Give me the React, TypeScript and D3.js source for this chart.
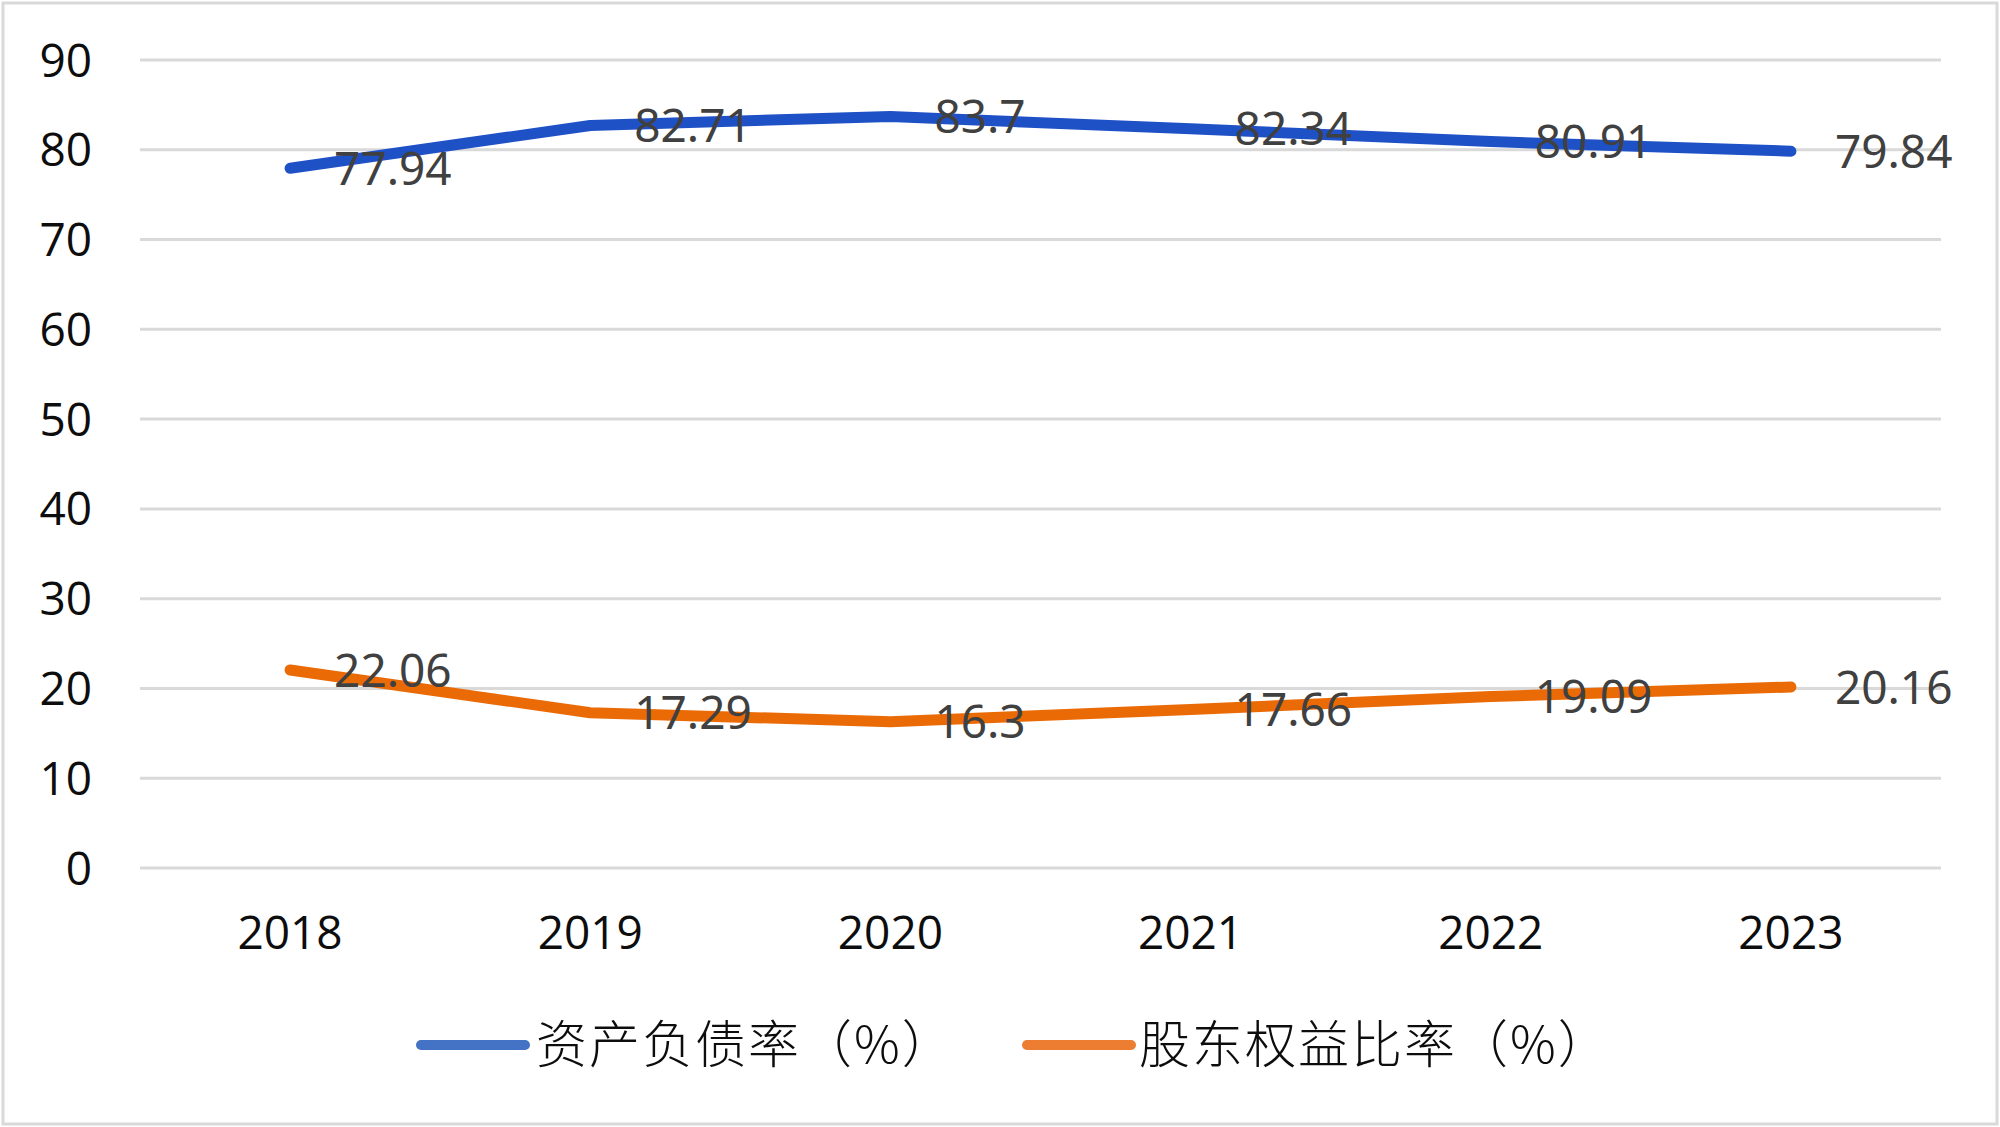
import React from 'react';
import * as d3 from 'd3';

const years = ['2018', '2019', '2020', '2021', '2022', '2023'];
const debtRatio = [77.94, 82.71, 83.7, 82.34, 80.91, 79.84];
const equityRatio = [22.06, 17.29, 16.3, 17.66, 19.09, 20.16];
const yTicks = [0, 10, 20, 30, 40, 50, 60, 70, 80, 90];
const seriesNames = ['资产负债率（%）', '股东权益比率（%）'];

const W = 2000;
const H = 1127;

const series = [
  { name: seriesNames[0], values: debtRatio, line: '#1f51c6', legend: '#4472c4' },
  { name: seriesNames[1], values: equityRatio, line: '#ea6a06', legend: '#ed7d31' }
];

const App: React.FC = () => {
  const plot = { left: 140, right: 1941, top: 60, bottom: 868 };

  const x = d3.scaleBand<string>().domain(years).range([plot.left, plot.right]);
  const y = d3.scaleLinear().domain([0, 90]).range([plot.bottom, plot.top]);
  const cx = (d: string) => (x(d) ?? 0) + x.bandwidth() / 2;

  const line = d3.line<number>()
    .x((_, i) => cx(years[i]))
    .y(v => y(v));

  const legendItems = [
    { x0: 421, x1: 525, tx: 536 },
    { x0: 1027, x1: 1131, tx: 1139 }
  ];

  return (
    <svg
      width={W}
      height={H}
      style={{ position: 'absolute', left: 0, top: 0, display: 'block', background: '#fff' }}
    >
      <rect x={3} y={3} width={W - 6} height={H - 6} fill="#fff" stroke="#d9d9d9" strokeWidth={3} />

      {/* grid */}
      {yTicks.map(t => (
        <line key={t} x1={plot.left} x2={plot.right} y1={y(t)} y2={y(t)} stroke="#d9d9d9" strokeWidth={3} />
      ))}

      {/* y labels */}
      {yTicks.map(t => (
        <text
          key={'yl' + t}
          x={92}
          y={y(t)}
          dy="0.36em"
          textAnchor="end"
          fontFamily="'Open Sans', 'Liberation Sans', sans-serif"
          fontSize={46}
          fill="#0d0d0d"
        >
          {t}
        </text>
      ))}

      {/* x labels */}
      {years.map(yr => (
        <text
          key={yr}
          x={cx(yr)}
          y={949}
          textAnchor="middle"
          fontFamily="'Open Sans', 'Liberation Sans', sans-serif"
          fontSize={46}
          fill="#0d0d0d"
        >
          {yr}
        </text>
      ))}

      {/* lines */}
      {series.map(s => (
        <path
          key={s.name}
          d={line(s.values) ?? ''}
          fill="none"
          stroke={s.line}
          strokeWidth={11}
          strokeLinecap="round"
          strokeLinejoin="round"
        />
      ))}

      {/* data labels */}
      {series.map(s =>
        s.values.map((v, i) => (
          <text
            key={s.name + i}
            x={cx(years[i]) + 44}
            y={y(v)}
            dy="0.36em"
            fontFamily="'Noto Sans', 'DejaVu Sans', sans-serif"
            fontSize={46}
            fill="#404040"
          >
            {v}
          </text>
        ))
      )}

      {/* legend */}
      {series.map((s, i) => (
        <g key={'lg' + i}>
          <line
            x1={legendItems[i].x0}
            x2={legendItems[i].x1}
            y1={1045}
            y2={1045}
            stroke={s.legend}
            strokeWidth={10}
            strokeLinecap="round"
          />
          <text
            x={legendItems[i].tx}
            y={1045}
            dy="0.36em"
            fontFamily="'Noto Sans CJK SC', sans-serif"
            fontWeight={300}
            fontSize={51}
            letterSpacing={2}
            fill="#0d0d0d"
          >
            {s.name}
          </text>
        </g>
      ))}
    </svg>
  );
};

export default App;
